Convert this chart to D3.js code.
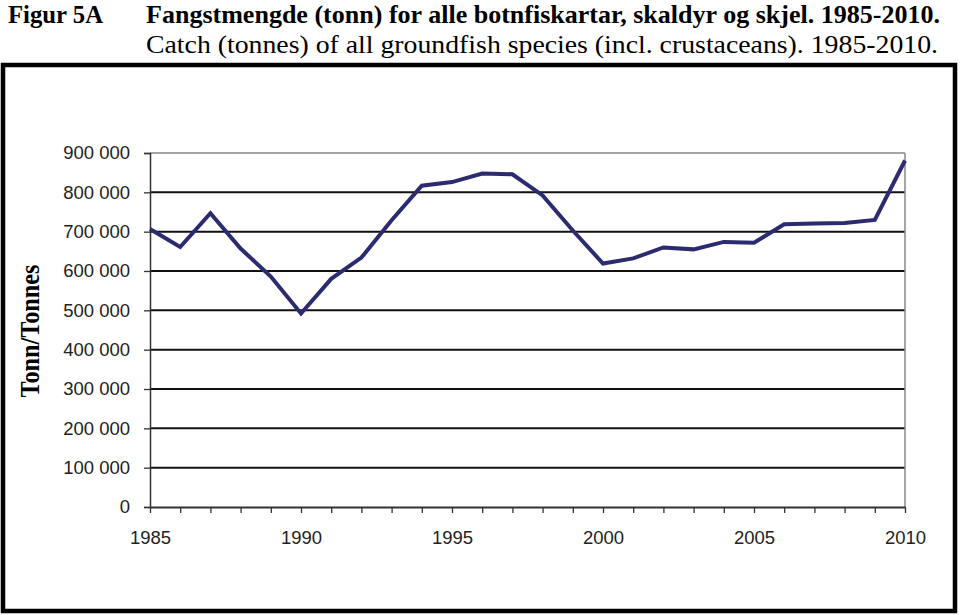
<!DOCTYPE html>
<html><head><meta charset="utf-8">
<script src="https://cdn.jsdelivr.net/npm/d3@7"></script>
<style>body{margin:0;background:#fff}svg{display:block}
.serif{font-family:"Liberation Serif","Times New Roman",Times,serif}
.sans{font-family:"Liberation Sans",Arial,Helvetica,sans-serif}
</style>
</head><body>
<script>
const years = [1985,1986,1987,1988,1989,1990,1991,1992,1993,1994,1995,1996,1997,1998,1999,2000,2001,2002,2003,2004,2005,2006,2007,2008,2009,2010];
const catchTonnes = [707000,661000,747000,657000,586000,492000,580000,634000,729000,817000,826000,848000,846000,792000,703000,619000,632000,660000,655000,674000,672000,719000,721000,722000,730000,881000];
const yTicks = [0,100000,200000,300000,400000,500000,600000,700000,800000,900000];
const xLabels = [1985,1990,1995,2000,2005,2010];
const titleFig = "Figur 5A";
const titleNo = "Fangstmengde (tonn) for alle botnfiskartar, skaldyr og skjel. 1985-2010.";
const titleEn = "Catch (tonnes) of all groundfish species (incl. crustaceans). 1985-2010.";
const yLabel = "Tonn/Tonnes";

const W = 960, H = 615;
const svg = d3.select("body").append("svg").attr("width", W).attr("height", H);

// frame
svg.append("rect").attr("x",3).attr("y",65).attr("width",952).attr("height",546)
  .attr("fill","none").attr("stroke","#000").attr("stroke-width",4.5);

// titles
function fitText(sel, len){ sel.attr("textLength", len).attr("lengthAdjust","spacingAndGlyphs"); }
svg.append("text").attr("class","serif").attr("x",8).attr("y",23).attr("font-weight","bold")
  .attr("font-size",25).text(titleFig).call(fitText,95);
svg.append("text").attr("class","serif").attr("x",146).attr("y",23).attr("font-weight","bold")
  .attr("font-size",25).text(titleNo).call(fitText,794);
svg.append("text").attr("class","serif").attr("x",146).attr("y",53)
  .attr("font-size",26).text(titleEn).call(fitText,792);

const x = d3.scaleLinear().domain([1985,2010]).range([150,905]);
const y = d3.scaleLinear().domain([0,900000]).range([507,153]);
const fmt = d => d3.format(",")(d).replace(/,/g," ");

// gridlines
svg.append("g").selectAll("line").data(yTicks.filter(d=>d>0 && d<900000)).join("line")
  .attr("x1",150).attr("x2",905).attr("y1",d=>y(d)).attr("y2",d=>y(d))
  .attr("stroke","#111").attr("stroke-width",2);
// top and right plot border (gray)
svg.append("line").attr("x1",150).attr("x2",905).attr("y1",y(900000)).attr("y2",y(900000))
  .attr("stroke","#888").attr("stroke-width",1.5);
svg.append("line").attr("x1",905).attr("x2",905).attr("y1",y(900000)).attr("y2",y(0))
  .attr("stroke","#888").attr("stroke-width",1.5);

// y axis
const yAxis = d3.axisLeft(y).tickValues(yTicks).tickFormat(fmt).tickSize(6).tickPadding(14);
const gy = svg.append("g").attr("transform","translate(150,0)").call(yAxis);
gy.attr("font-family",null);
gy.select(".domain").attr("stroke","#333").attr("stroke-width",1.5);
gy.selectAll(".tick line").attr("stroke","#333").attr("stroke-width",1.3);
gy.selectAll(".tick text").attr("class","sans").attr("font-size",18.5).attr("fill","#222");

// x axis
const xAxis = d3.axisBottom(x).tickValues(years).tickSize(6).tickSizeOuter(0)
  .tickFormat(d => xLabels.includes(d) ? String(d) : "").tickPadding(18);
const gx = svg.append("g").attr("transform","translate(0,507)").call(xAxis);
gx.attr("font-family",null);
gx.select(".domain").attr("stroke","#333").attr("stroke-width",2);
gx.selectAll(".tick line").attr("stroke","#333").attr("stroke-width",1.3);
gx.selectAll(".tick text").attr("class","sans").attr("font-size",18.5).attr("fill","#222");

// y label
svg.append("text").attr("class","serif").attr("transform","translate(39,331) rotate(-90)").attr("text-anchor","middle")
  .attr("font-weight","bold").attr("font-size",28)
  .text(yLabel).call(fitText,133);

// line
const line = d3.line().x((d,i)=>x(years[i])).y(d=>y(d));
svg.append("path").datum(catchTonnes).attr("d",line).attr("fill","none")
  .attr("stroke","#2b2c6f").attr("stroke-width",4).attr("stroke-linejoin","miter");
</script>
</body></html>
